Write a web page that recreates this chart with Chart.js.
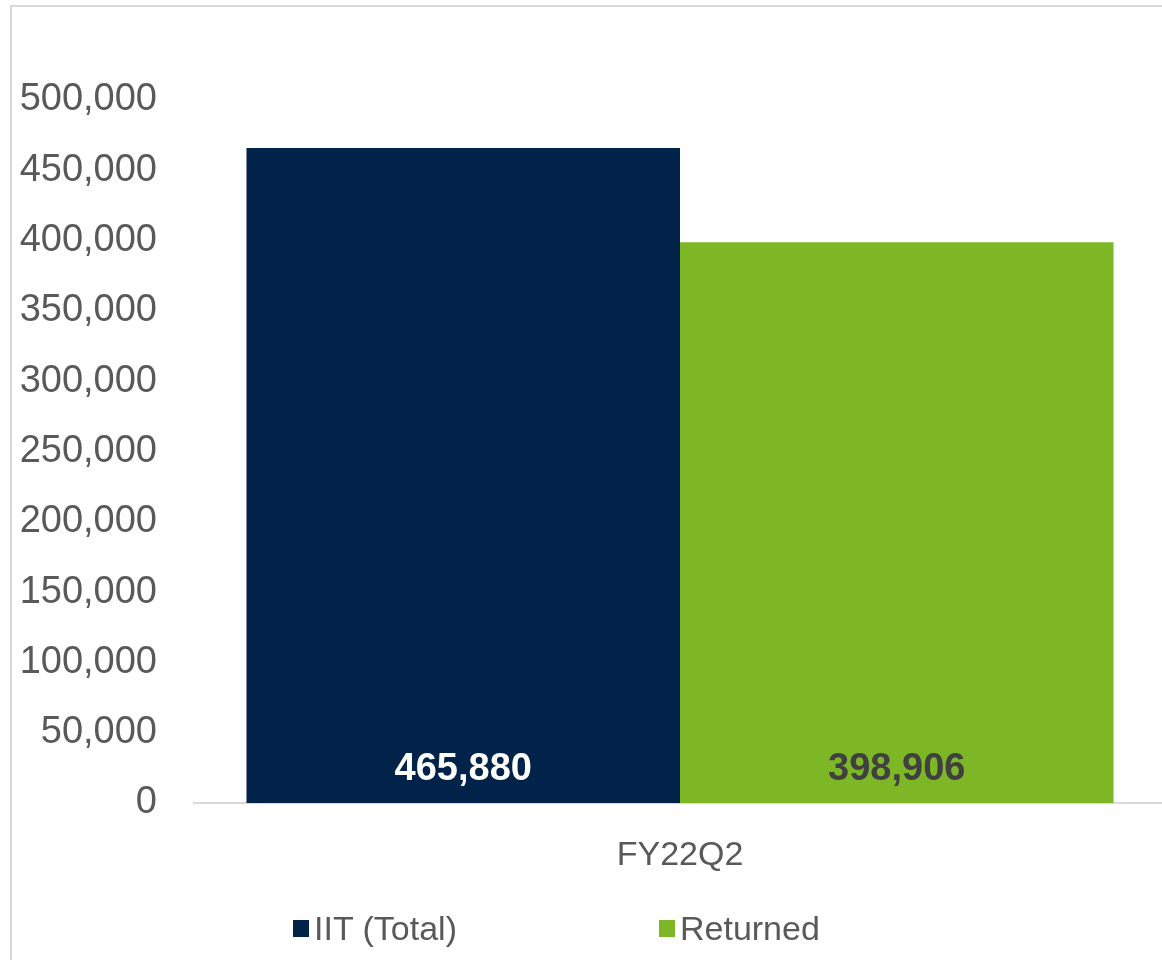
<!DOCTYPE html>
<html>
<head>
<meta charset="utf-8">
<script src="https://cdn.jsdelivr.net/npm/chart.js@4/dist/chart.umd.min.js"></script>
<style>
  html, body { margin: 0; padding: 0; background: #fff; overflow: hidden; width: 1162px; height: 960px; }
  #frame { position: absolute; left: 10px; top: 5px; width: 1200px; height: 1000px;
           border-left: 2px solid #d9d9d9; border-top: 2px solid #d9d9d9; }
  #box { position: absolute; left: 0; top: 0; width: 1180px; height: 960px; }
  #legend { position: absolute; left: 293px; top: 909px; display: flex; align-items: center;
            font-family: "Liberation Sans", Arial, sans-serif; font-size: 34px; color: #595959; }
  #legend .item { display: flex; align-items: center; margin-right: 202px; }
  #legend .sw { width: 16px; height: 17px; margin-right: 5px; }
</style>
</head>
<body>
<div id="frame"></div>
<div id="box"><canvas id="chart1"></canvas></div>
<div id="legend"></div>
<script>
// данные графика
const categories = ['FY22Q2'];
const seriesNames = ['IIT (Total)', 'Returned'];
const iitTotal = [465880];
const returned = [398906];
const yTicks = [0, 50000, 100000, 150000, 200000, 250000, 300000, 350000, 400000, 450000, 500000];

const barColors = ['#022349', '#7db726'];
const labelColors = ['#ffffff', '#404040'];
const fontName = '"Liberation Sans", Arial, sans-serif';

// подписи значений у основания столбцов
const barLabels = {
    id: 'barLabels',
    afterDatasetsDraw(chart) {
        let ctx = chart.ctx;
        chart.data.datasets.forEach((ds, i) => {
            chart.getDatasetMeta(i).data.forEach((bar, j) => {
                ctx.save();
                ctx.font = 'bold 38px ' + fontName;
                ctx.fillStyle = labelColors[i];
                ctx.textAlign = 'center';
                ctx.textBaseline = 'middle';
                ctx.fillText(ds.data[j].toLocaleString('en-US'), bar.x, bar.base - 33);
                ctx.restore();
            });
        });
    }
};

let ctx = document.getElementById('chart1');
let chart1 = new Chart(ctx, {
    type: 'bar',
    data: {
        labels: categories,
        datasets: [
            { label: seriesNames[0], data: iitTotal, backgroundColor: barColors[0] },
            { label: seriesNames[1], data: returned, backgroundColor: barColors[1] }
        ]
    },
    options: {
        responsive: true,
        maintainAspectRatio: false,
        animation: false,
        categoryPercentage: 0.892,
        barPercentage: 1.0,
        layout: { padding: { top: 100, left: 20, right: 14, bottom: 85 } },
        plugins: {
            legend: { display: false },
            tooltip: { enabled: false }
        },
        scales: {
            x: {
                grid: { display: false, drawTicks: false },
                border: { display: true, color: '#d9d9d9', width: 2 },
                ticks: { color: '#595959', font: { family: fontName, size: 34 }, padding: 32 },
                afterFit: (s) => { s.height = 72; }
            },
            y: {
                min: 0,
                max: 500000,
                grid: { display: false, drawTicks: false },
                border: { display: false },
                afterBuildTicks: (s) => { s.ticks = yTicks.map(v => ({ value: v })); },
                ticks: {
                    color: '#595959',
                    font: { family: fontName, size: 38 },
                    padding: 37,
                    callback: (v) => v.toLocaleString('en-US')
                },
                afterFit: (s) => { s.width = 174; }
            }
        }
    },
    plugins: [barLabels]
});

// легенда
let leg = document.getElementById('legend');
chart1.data.datasets.forEach((ds) => {
    leg.insertAdjacentHTML('beforeend',
        `<div class="item"><div class="sw" style="background:${ds.backgroundColor}"></div><span>${ds.label}</span></div>`);
});
</script>
</body>
</html>
